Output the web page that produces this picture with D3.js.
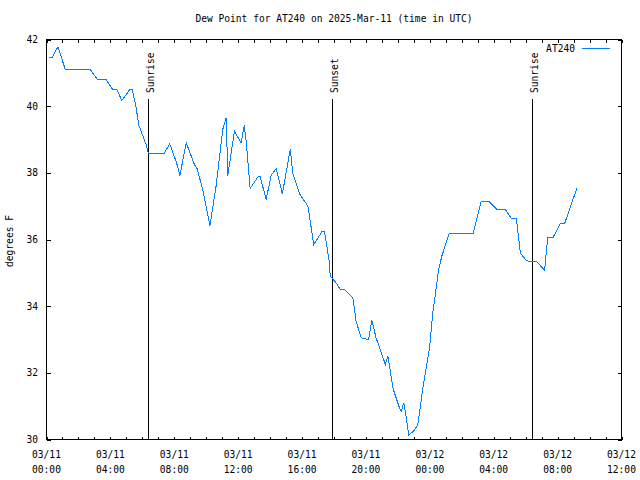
<!DOCTYPE html>
<html>
<head>
<meta charset="utf-8">
<title>Dew Point AT240</title>
<style>
body { margin: 0; background: #fff; }
svg { display: block; background: #fff; }
text { font-family: 'DejaVu Sans Mono', monospace; font-size: 9.6px; fill: #000; }
.frame { fill: none; stroke: #000; stroke-width: 1; shape-rendering: crispEdges; }
.tick { stroke: #000; stroke-width: 1; shape-rendering: crispEdges; }
.sun { stroke: #000; stroke-width: 1; shape-rendering: crispEdges; }
.dew { fill: none; stroke: #0080ff; stroke-width: 1; shape-rendering: crispEdges; }
</style>
<script src="https://cdn.jsdelivr.net/npm/d3@7"></script>
</head>
<body>
<script>
// readings (UTC)
var times = [
    "2025-03-11 00:11", "2025-03-11 00:20", "2025-03-11 00:43", "2025-03-11 01:11",
    "2025-03-11 02:45", "2025-03-11 03:12", "2025-03-11 03:44", "2025-03-11 04:09",
    "2025-03-11 04:24", "2025-03-11 04:43", "2025-03-11 05:12", "2025-03-11 05:22",
    "2025-03-11 05:36", "2025-03-11 05:46", "2025-03-11 06:14", "2025-03-11 06:23",
    "2025-03-11 07:22", "2025-03-11 07:43", "2025-03-11 08:09", "2025-03-11 08:21",
    "2025-03-11 08:45", "2025-03-11 09:16", "2025-03-11 09:25", "2025-03-11 09:47",
    "2025-03-11 10:14", "2025-03-11 10:37", "2025-03-11 11:02", "2025-03-11 11:15",
    "2025-03-11 11:21", "2025-03-11 11:46", "2025-03-11 12:11", "2025-03-11 12:23",
    "2025-03-11 12:30", "2025-03-11 12:45", "2025-03-11 13:16", "2025-03-11 13:23",
    "2025-03-11 13:45", "2025-03-11 14:04", "2025-03-11 14:23", "2025-03-11 14:46",
    "2025-03-11 15:16", "2025-03-11 15:25", "2025-03-11 15:50", "2025-03-11 16:22",
    "2025-03-11 16:44", "2025-03-11 17:16", "2025-03-11 17:24", "2025-03-11 17:41",
    "2025-03-11 17:46", "2025-03-11 18:08", "2025-03-11 18:23", "2025-03-11 18:40",
    "2025-03-11 19:11", "2025-03-11 19:23", "2025-03-11 19:42", "2025-03-11 20:10",
    "2025-03-11 20:22", "2025-03-11 20:38", "2025-03-11 20:58", "2025-03-11 21:13",
    "2025-03-11 21:22", "2025-03-11 21:29", "2025-03-11 21:41", "2025-03-11 22:06",
    "2025-03-11 22:13", "2025-03-11 22:22", "2025-03-11 22:29", "2025-03-11 22:41",
    "2025-03-11 23:02", "2025-03-11 23:15", "2025-03-11 23:34", "2025-03-11 23:59",
    "2025-03-12 00:11", "2025-03-12 00:24", "2025-03-12 00:33", "2025-03-12 00:45",
    "2025-03-12 01:12", "2025-03-12 02:42", "2025-03-12 03:13", "2025-03-12 03:41",
    "2025-03-12 04:12", "2025-03-12 04:44", "2025-03-12 05:06", "2025-03-12 05:25",
    "2025-03-12 05:40", "2025-03-12 05:59", "2025-03-12 06:14", "2025-03-12 06:42",
    "2025-03-12 07:11", "2025-03-12 07:23", "2025-03-12 07:42", "2025-03-12 08:10",
    "2025-03-12 08:26", "2025-03-12 09:12"
];
var dewPoint = [
    41.45, 41.45, 41.78, 41.09,
    41.09, 40.79, 40.79, 40.50,
    40.50, 40.17, 40.49, 40.49,
    40.00, 39.45, 38.85, 38.58,
    38.58, 38.87, 38.29, 37.92,
    38.90, 38.24, 38.14, 37.50,
    36.42, 37.60, 39.30, 39.65,
    37.92, 39.25, 38.90, 39.42,
    38.95, 37.53, 37.90, 37.88,
    37.20, 37.92, 38.13, 37.37,
    38.72, 38.00, 37.38, 37.00,
    35.85, 36.25, 36.25, 35.40,
    34.90, 34.70, 34.50, 34.50,
    34.25, 33.55, 33.05, 33.00,
    33.58, 33.05, 32.60, 32.25,
    32.50, 32.20, 31.55, 30.95,
    30.85, 31.10, 30.80, 30.13,
    30.28, 30.45, 31.55, 32.75,
    33.80, 34.55, 35.10, 35.50,
    36.17, 36.17, 37.15, 37.15,
    36.90, 36.90, 36.63, 36.63,
    35.60, 35.40, 35.33, 35.33,
    35.08, 36.05, 36.05, 36.47,
    36.47, 37.53
];
var sunEvents = ["Sunrise", "Sunset", "Sunrise"];
var sunTimes = ["2025-03-11 06:23", "2025-03-11 17:51", "2025-03-12 06:22"];
var yTicks = [30, 32, 34, 36, 38, 40, 42];
var xDomain = ["2025-03-11 00:00", "2025-03-12 12:00"];

var width = 640,
    height = 480;
// (don't call these top/left: window.top is read-only)
var plotLeft = 46.5, plotRight = 621.5, plotTop = 39.5, plotBottom = 439.5;

var parse = d3.utcParse("%Y-%m-%d %H:%M");
var data = times.map(function (t, i) { return { t: parse(t), v: dewPoint[i] }; });

var x = d3.scaleUtc().domain(xDomain.map(parse)).range([plotLeft, plotRight]);
var y = d3.scaleLinear().domain([30, 42]).range([plotBottom, plotTop]);

var svg = d3.select("body").append("svg")
    .attr("width", width)
    .attr("height", height);

// title + axis label
svg.append("text")
    .attr("x", 334).attr("y", 22)
    .attr("text-anchor", "middle")
    .text("Dew Point for AT240 on 2025-Mar-11 (time in UTC)");

svg.append("text")
    .attr("transform", "translate(13,241) rotate(-90)")
    .attr("text-anchor", "middle")
    .text("degrees F");

// x ticks: minor every hour, labels every 4 hours
var hourTicks = x.ticks(d3.utcHour.every(1));
var xt = svg.append("g");
hourTicks.forEach(function (d) {
    var px = Math.round(x(d)) + 0.5;
    xt.append("line").attr("class", "tick")
        .attr("x1", px).attr("x2", px).attr("y1", plotBottom).attr("y2", plotBottom - 3);
    xt.append("line").attr("class", "tick")
        .attr("x1", px).attr("x2", px).attr("y1", plotTop).attr("y2", plotTop + 3);
});
var fmtDay = d3.utcFormat("%m/%d"), fmtHour = d3.utcFormat("%H:%M");
x.ticks(d3.utcHour.every(4)).forEach(function (d) {
    var label = xt.append("text")
        .attr("text-anchor", "middle")
        .attr("x", x(d));
    label.append("tspan").attr("x", x(d)).attr("y", 458).text(fmtDay(d));
    label.append("tspan").attr("x", x(d)).attr("y", 473).text(fmtHour(d));
});

// y ticks both sides
var yt = svg.append("g");
yTicks.forEach(function (v) {
    var py = Math.round(y(v)) + 0.5;
    yt.append("line").attr("class", "tick")
        .attr("x1", plotLeft).attr("x2", plotLeft + 4).attr("y1", py).attr("y2", py);
    yt.append("line").attr("class", "tick")
        .attr("x1", plotRight).attr("x2", plotRight - 4).attr("y1", py).attr("y2", py);
    yt.append("text")
        .attr("x", 38).attr("y", y(v) + 3.5)
        .attr("text-anchor", "end")
        .text(v);
});

// sunrise / sunset markers, label reads upward from just above the line
sunTimes.forEach(function (t, i) {
    var px = Math.round(x(parse(t))) + 0.5;
    svg.append("line").attr("class", "sun")
        .attr("x1", px).attr("x2", px)
        .attr("y1", Math.round(y(40.2))).attr("y2", plotBottom);
    svg.append("text")
        .attr("transform", "translate(" + (px + 5.5) + "," + 93 + ") rotate(-90)")
        .attr("text-anchor", "start")
        .text(sunEvents[i]);
});

// the series
var line = d3.line()
    .x(function (d) { return x(d.t); })
    .y(function (d) { return y(d.v); });

svg.append("path")
    .datum(data)
    .attr("class", "dew")
    .attr("d", line);

// frame
svg.append("rect").attr("class", "frame")
    .attr("x", plotLeft).attr("y", plotTop)
    .attr("width", plotRight - plotLeft).attr("height", plotBottom - plotTop);

// legend
svg.append("text")
    .attr("x", 575).attr("y", 52)
    .attr("text-anchor", "end")
    .text("AT240");
svg.append("line")
    .attr("x1", 582).attr("x2", 610).attr("y1", 48.5).attr("y2", 48.5)
    .attr("stroke", "#0080ff").attr("shape-rendering", "crispEdges");
</script>
</body>
</html>
